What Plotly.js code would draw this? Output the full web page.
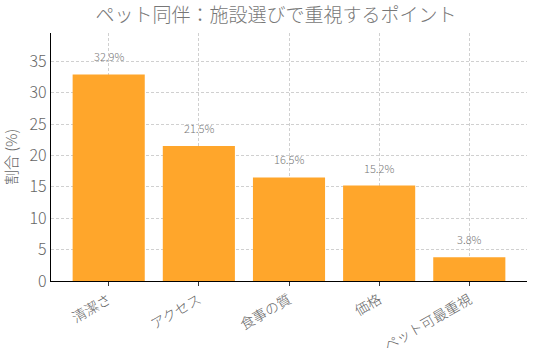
<!DOCTYPE html>
<html><head><meta charset="utf-8">
<script src="https://cdn.plot.ly/plotly-3.0.1.min.js"></script>
<style>html,body{margin:0;padding:0;background:#fff}#c{width:536px;height:354px}</style>
</head><body><div id="c"></div>
<script>
const categories = ["清潔さ", "アクセス", "食事の質", "価格", "ペット可最重視"];
const values = [32.9, 21.5, 16.5, 15.2, 3.8];
const labels = ["32.9%", "21.5%", "16.5%", "15.2%", "3.8%"];
const yTicks = [0, 5, 10, 15, 20, 25, 30, 35];

const font = '"Noto Sans CJK JP", "Noto Sans", sans-serif';
const trace = {
  type: 'bar', x: categories, y: values, width: 0.8,
  marker: {color: '#FFA62B'}, hoverinfo: 'none'
};
const annotations = categories.map((c, i) => ({
  x: c, y: values[i], text: labels[i], showarrow: false,
  yanchor: 'bottom', yshift: 8, font: {family: font, size: 11, color: '#777', weight: 300}
}));
const layout = {
  width: 536, height: 354,
  margin: {l: 51, r: 9, t: 33, b: 73},
  paper_bgcolor: '#fff', plot_bgcolor: '#fff',
  showlegend: false,
  title: {text: 'ペット同伴：施設選びで重視するポイント', x: 0.515, xanchor: 'center', y: 0.975, yanchor: 'top',
          font: {family: font, size: 19, color: '#777', weight: 300}},
  xaxis: {
    type: 'category', range: [-0.64, 4.64],
    showline: true, linecolor: '#000', linewidth: 1.3,
    ticks: 'outside', ticklen: 4, tickcolor: '#333',
    tickangle: -30, tickfont: {family: font, size: 14, color: '#666', weight: 300},
    showgrid: true, gridcolor: '#d0d0d0', griddash: '3px,2px', gridwidth: 1,
    zeroline: false
  },
  yaxis: {
    range: [0, 39.5], tickvals: yTicks, ticktext: yTicks.map(String),
    showline: true, linecolor: '#000', linewidth: 1.3,
    ticks: '', tickfont: {family: font, size: 16, color: '#666', weight: 300},
    showgrid: true, gridcolor: '#d0d0d0', griddash: '3px,2px', gridwidth: 1,
    zeroline: false,
    title: {text: '割合 (%)', font: {family: font, size: 15, color: '#666', weight: 300}, standoff: 8}
  },
  annotations: annotations
};
Plotly.newPlot('c', [trace], layout, {displayModeBar: false, staticPlot: true});
</script></body></html>
